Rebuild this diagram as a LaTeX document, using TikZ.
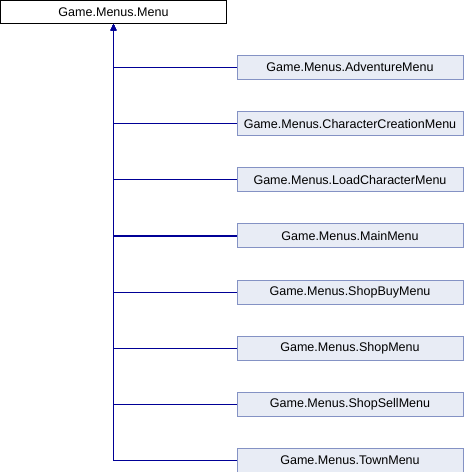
\documentclass[tikz,border=0pt]{standalone}
\usepackage{fontspec}
\setmainfont{Liberation Sans}
\usetikzlibrary{arrows.meta}

\begin{document}
\begin{tikzpicture}[x=0.75pt,y=-0.75pt,
		base/.style={draw=black,fill=white,line width=0.75pt,minimum width=169.5pt,minimum height=17.25pt,inner sep=0pt,font=\fontsize{9.4}{11}\selectfont},
		derived/.style={draw={rgb,255:red,132;green,146;blue,196},fill={rgb,255:red,232;green,236;blue,245},line width=0.75pt,minimum width=169.5pt,minimum height=18pt,inner sep=0pt,font=\fontsize{9.4}{11}\selectfont},
		inherit/.style={draw={rgb,255:red,0;green,0;blue,150},line width=0.9pt,-{Triangle[length=4.8pt,width=4.2pt]}}]
		\useasboundingbox (0,0) rectangle (464,472);
		\node(menu) at (113.5,12)[base]{Game.Menus.Menu};
		\node(adventure) at (350,67.5)[derived]{Game.Menus.AdventureMenu};
		\node(creation) at (350,123.6)[derived]{Game.Menus.CharacterCreationMenu};
		\node(load) at (350,179.8)[derived]{Game.Menus.LoadCharacterMenu};
		\node(mainmenu) at (350,235.9)[derived]{Game.Menus.MainMenu};
		\node(shopbuy) at (350,292.1)[derived]{Game.Menus.ShopBuyMenu};
		\node(shop) at (350,348.2)[derived]{Game.Menus.ShopMenu};
		\node(shopsell) at (350,404.4)[derived]{Game.Menus.ShopSellMenu};
		\node(town) at (350,460.5)[derived]{Game.Menus.TownMenu};
		
		\foreach \child in {adventure,creation,load,mainmenu,shopbuy,shop,shopsell,town}
			\draw[inherit] (\child.west) -| (menu.south);
	\end{tikzpicture}
\end{document}
